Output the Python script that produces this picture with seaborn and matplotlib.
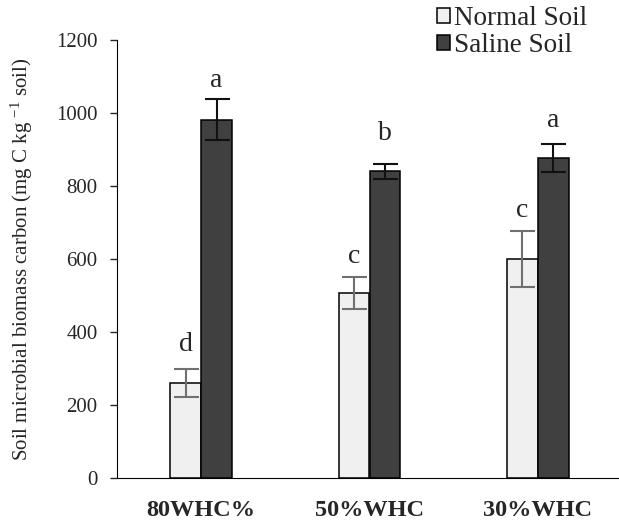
import pandas as pd
import seaborn as sns
import matplotlib.pyplot as plt

treatments = ["80WHC%", "50%WHC", "30%WHC"]
soils = ["Normal Soil", "Saline Soil"]
normal_vals = [260, 507, 600]
saline_vals = [981, 840, 876]
normal_err = [38, 43, 78]
saline_err = [56, 20, 39]
normal_letters = ["d", "c", "c"]
saline_letters = ["a", "b", "a"]
# baseline heights of the significance letters
normal_letter_y = [348, 589, 715]
saline_letter_y = [1071, 926, 962]

df = pd.DataFrame({
    "treatment": treatments * 2,
    "soil": [soils[0]] * 3 + [soils[1]] * 3,
    "value": normal_vals + saline_vals,
})

sns.set_style("white")
plt.rcParams["font.family"] = ["Liberation Serif", "DejaVu Serif"]
plt.rcParams["mathtext.fontset"] = "custom"
plt.rcParams["mathtext.rm"] = "Liberation Serif"
plt.rcParams["mathtext.default"] = "rm"

fig = plt.figure(figsize=(6.19, 5.22), dpi=100)
ax = fig.add_axes([117 / 619, 44 / 522, 505 / 619, 438 / 522])

sns.barplot(data=df, x="treatment", y="value", hue="soil", hue_order=soils,
            palette=["#f0f0f0", "#404040"], width=0.365, edgecolor="black",
            linewidth=1.1, errorbar=None, ax=ax)

errs = [normal_err, saline_err]
vals = [normal_vals, saline_vals]
letters = [normal_letters, saline_letters]
letter_y = [normal_letter_y, saline_letter_y]
err_colors = ["#707070", "#111111"]
bar_groups = list(ax.containers)
for i, cont in enumerate(bar_groups):
    for j, bar in enumerate(cont):
        cx = bar.get_x() + bar.get_width() / 2
        ax.errorbar(cx, vals[i][j], yerr=errs[i][j], color=err_colors[i],
                    capsize=9, elinewidth=1.5, capthick=1.5)
        ax.text(cx, letter_y[i][j], letters[i][j],
                ha="center", va="baseline", fontsize=20)

ax.set_ylim(0, 1200)
ax.set_yticks(range(0, 1201, 200))
ax.set_xlim(-0.5, 2.5)
ax.set_xlabel("")
ax.set_ylabel("Soil microbial biomass carbon (mg C kg $^{-1}$ soil)", fontsize=15)
ax.yaxis.set_label_coords(-0.163, 0.5)
ax.tick_params(axis="y", labelsize=15, left=True, length=5, width=1, pad=9)
ax.tick_params(axis="x", labelsize=17.5, bottom=False, pad=12)
for lab in ax.get_xticklabels():
    lab.set_fontweight("bold")
sns.despine(ax=ax, top=True, right=True)
ax.spines["left"].set_color("black")
ax.spines["bottom"].set_color("black")

handles, labels = ax.get_legend_handles_labels()
ax.legend_.remove()
fig.legend(handles, labels, loc="upper left", bbox_to_anchor=(437 / 619, 1 - 6 / 522),
           frameon=False, fontsize=19.5, handlelength=0.48, handleheight=0.5,
           handletextpad=0.15, labelspacing=0.08, borderpad=0, borderaxespad=0)

plt.savefig("out.png", dpi=100)
